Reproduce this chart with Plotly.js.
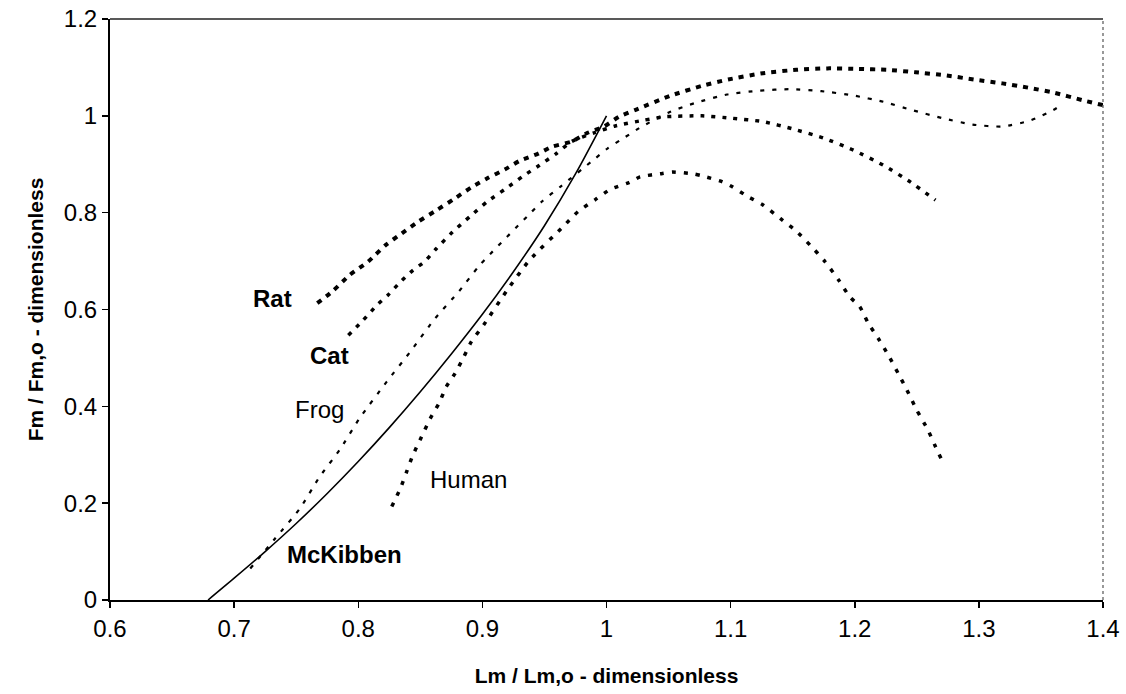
<!DOCTYPE html>
<html>
<head>
<meta charset="utf-8">
<script src="https://cdn.plot.ly/plotly-3.0.1.min.js"></script>
<style>html,body{margin:0;padding:0;background:#fff;}#chart{width:1126px;height:694px;}</style>
</head>
<body>
<div id="chart"></div>
<script>
// Data
const xTicks = [0.6, 0.7, 0.8, 0.9, 1, 1.1, 1.2, 1.3, 1.4];
const xTickText = ["0.6", "0.7", "0.8", "0.9", "1", "1.1", "1.2", "1.3", "1.4"];
const yTicks = [0, 0.2, 0.4, 0.6, 0.8, 1, 1.2];
const yTickText = ["0", "0.2", "0.4", "0.6", "0.8", "1", "1.2"];

const ratX = [0.767, 0.779, 0.793, 0.808, 0.822, 0.835, 0.848, 0.863, 0.877, 0.891, 0.904, 0.918, 0.930, 0.945, 0.956, 0.972, 0.984, 0.998, 1.010, 1.024, 1.051, 1.077, 1.098, 1.126, 1.153, 1.178, 1.202, 1.226, 1.249, 1.272, 1.296, 1.319, 1.340, 1.360, 1.384, 1.400];
const ratY = [0.613, 0.637, 0.671, 0.699, 0.733, 0.757, 0.781, 0.805, 0.828, 0.852, 0.871, 0.889, 0.907, 0.922, 0.936, 0.947, 0.964, 0.978, 0.998, 1.013, 1.041, 1.062, 1.075, 1.088, 1.095, 1.098, 1.097, 1.095, 1.090, 1.084, 1.075, 1.067, 1.058, 1.048, 1.032, 1.022];

const catX = [0.792, 0.804, 0.815, 0.824, 0.834, 0.844, 0.853, 0.863, 0.876, 0.890, 0.904, 0.918, 0.932, 0.946, 0.959, 0.972, 0.990, 1.007, 1.030, 1.047, 1.077, 1.101, 1.126, 1.150, 1.175, 1.199, 1.223, 1.245, 1.265];
const catY = [0.547, 0.578, 0.609, 0.630, 0.657, 0.681, 0.698, 0.726, 0.760, 0.792, 0.823, 0.848, 0.874, 0.898, 0.921, 0.947, 0.965, 0.979, 0.991, 0.998, 1.000, 0.995, 0.988, 0.973, 0.954, 0.929, 0.898, 0.863, 0.826];

const frogX = [0.713, 0.733, 0.753, 0.769, 0.785, 0.801, 0.823, 0.842, 0.862, 0.881, 0.898, 0.936, 0.948, 0.963, 0.990, 1.001, 1.015, 1.026, 1.051, 1.072, 1.097, 1.123, 1.148, 1.173, 1.199, 1.223, 1.246, 1.271, 1.295, 1.319, 1.341, 1.360, 1.368];
const frogY = [0.065, 0.127, 0.189, 0.255, 0.310, 0.375, 0.451, 0.513, 0.582, 0.637, 0.692, 0.792, 0.823, 0.854, 0.910, 0.933, 0.956, 0.974, 1.008, 1.027, 1.044, 1.052, 1.055, 1.051, 1.042, 1.029, 1.012, 0.995, 0.982, 0.978, 0.990, 1.012, 1.025];

const humanX = [0.827, 0.834, 0.839, 0.844, 0.851, 0.858, 0.865, 0.871, 0.878, 0.885, 0.891, 0.901, 0.920, 0.938, 0.965, 0.977, 0.991, 1.003, 1.018, 1.027, 1.045, 1.053, 1.070, 1.077, 1.093, 1.101, 1.114, 1.126, 1.140, 1.152, 1.164, 1.176, 1.187, 1.196, 1.204, 1.211, 1.219, 1.227, 1.235, 1.242, 1.250, 1.259, 1.265, 1.272];
const humanY = [0.193, 0.231, 0.265, 0.299, 0.337, 0.375, 0.406, 0.441, 0.468, 0.502, 0.533, 0.568, 0.640, 0.702, 0.771, 0.802, 0.827, 0.848, 0.862, 0.874, 0.881, 0.884, 0.880, 0.876, 0.864, 0.854, 0.833, 0.816, 0.788, 0.764, 0.733, 0.699, 0.661, 0.626, 0.606, 0.571, 0.540, 0.506, 0.468, 0.434, 0.392, 0.351, 0.317, 0.279];

const mckX = [0.679, 0.700, 0.725, 0.750, 0.775, 0.800, 0.825, 0.850, 0.875, 0.900, 0.925, 0.950, 0.975, 1.000];
const mckY = [0.000, 0.045, 0.100, 0.158, 0.220, 0.286, 0.356, 0.430, 0.508, 0.590, 0.678, 0.773, 0.880, 1.000];

const labelNames = ["Rat", "Cat", "Frog", "Human", "McKibben"];
const labelX = [0.731, 0.777, 0.769, 0.889, 0.789];
const labelY = [0.622, 0.506, 0.394, 0.248, 0.095];
const labelBold = [true, true, false, false, true];

const font = "Liberation Sans, Arial, sans-serif";

const traces = [
  {x: ratX, y: ratY, mode: "lines", line: {color: "#000", width: 4, dash: "5px,6px", shape: "spline", smoothing: 0.6}},
  {x: catX, y: catY, mode: "lines", line: {color: "#000", width: 3.5, dash: "4px,7px", shape: "spline", smoothing: 0.6}},
  {x: frogX, y: frogY, mode: "lines", line: {color: "#000", width: 2.2, dash: "4px,8px", shape: "spline", smoothing: 0.6}},
  {x: humanX, y: humanY, mode: "lines", line: {color: "#000", width: 3.5, dash: "4px,8px", shape: "spline", smoothing: 0.6}},
  {x: mckX, y: mckY, mode: "lines", line: {color: "#000", width: 1.6, shape: "spline", smoothing: 0.8}}
];

const annotations = labelNames.map((t, i) => ({
  x: labelX[i], y: labelY[i], xref: "x", yref: "y",
  text: labelBold[i] ? "<b>" + t + "</b>" : t,
  showarrow: false,
  font: {family: font, size: 24, color: "#000"}
}));

const layout = {
  width: 1126, height: 694,
  margin: {l: 110, r: 23, t: 19, b: 94},
  paper_bgcolor: "#fff", plot_bgcolor: "#fff",
  showlegend: false,
  font: {family: font, color: "#000"},
  xaxis: {
    range: [0.6, 1.4], tickvals: xTicks, ticktext: xTickText,
    showgrid: false, zeroline: false,
    showline: true, linecolor: "#000", linewidth: 2,
    ticks: "outside", ticklen: 6, tickcolor: "#000", tickwidth: 1.5,
    tickfont: {family: font, size: 24, color: "#000"},
    title: {text: "<b>Lm / Lm,o - dimensionless</b>", font: {family: font, size: 21, color: "#000"}, standoff: 28}
  },
  yaxis: {
    range: [0, 1.2], tickvals: yTicks, ticktext: yTickText,
    showgrid: false, zeroline: false,
    showline: true, linecolor: "#000", linewidth: 2,
    ticks: "outside", ticklen: 6, tickcolor: "#000", tickwidth: 1.5,
    tickfont: {family: font, size: 24, color: "#000"},
    title: {text: "<b>Fm / Fm,o - dimensionless</b>", font: {family: font, size: 21, color: "#000"}, standoff: 14}
  },
  shapes: [
    {type: "line", xref: "paper", yref: "paper", x0: 0, x1: 1, y0: 1, y1: 1, line: {color: "#222", width: 1.5}},
    {type: "line", xref: "paper", yref: "paper", x0: 1, x1: 1, y0: 0, y1: 1, line: {color: "#555", width: 1.2, dash: "dot"}}
  ],
  annotations: annotations
};

Plotly.newPlot("chart", traces, layout, {displayModeBar: false, staticPlot: true});
</script>
</body>
</html>
